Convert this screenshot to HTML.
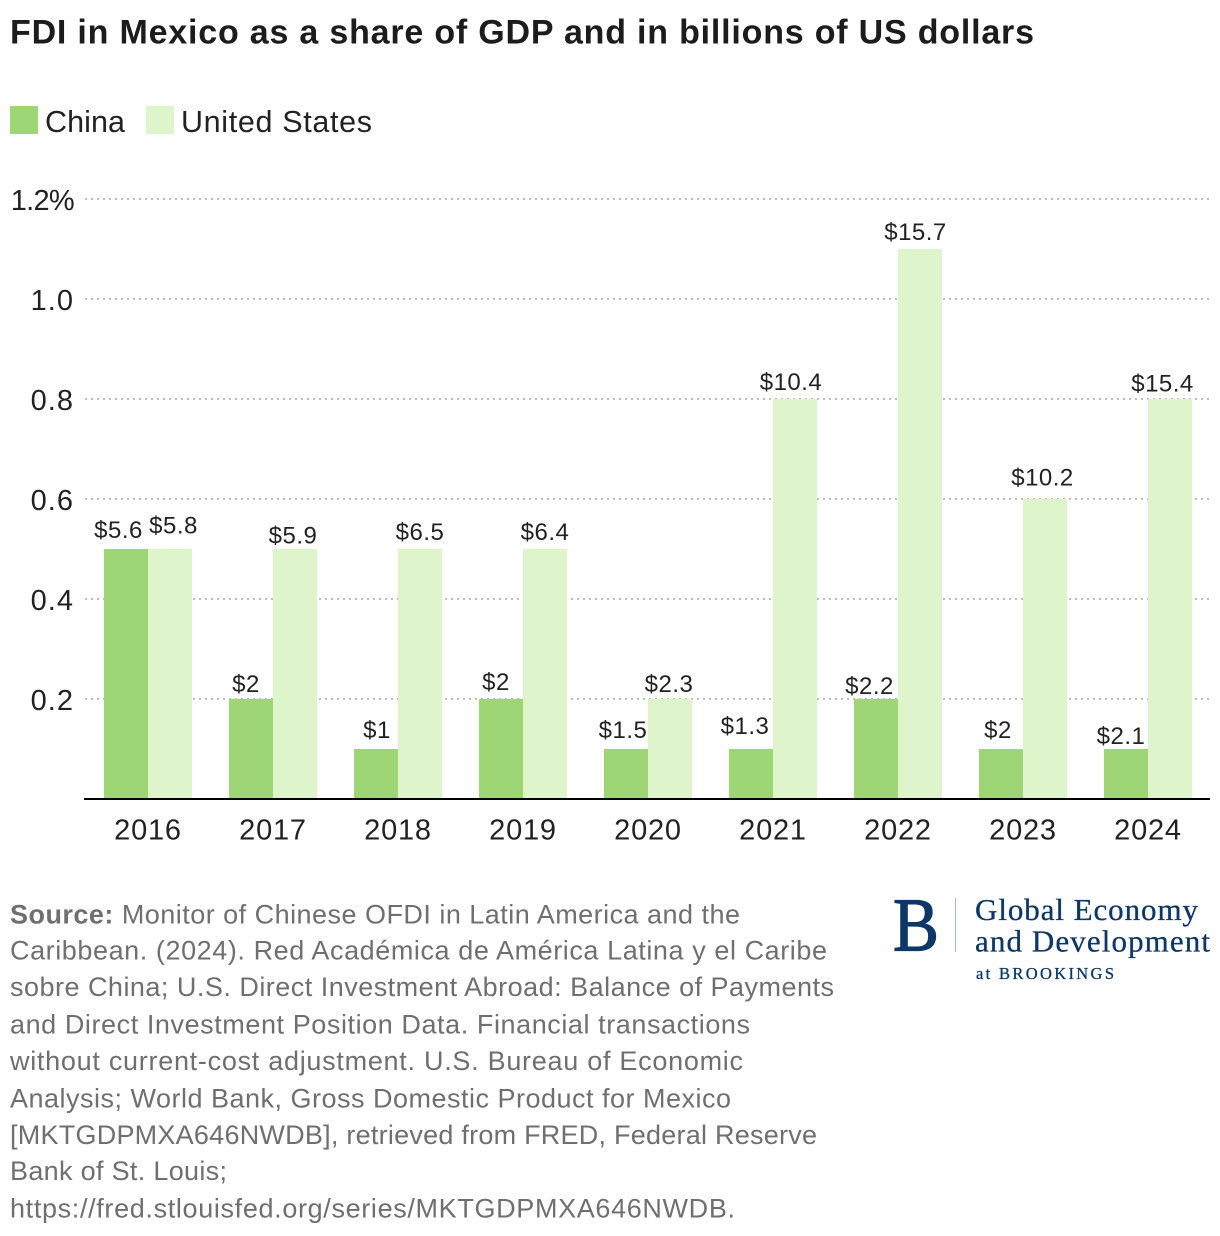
<!DOCTYPE html>
<html lang="en">
<head>
<meta charset="utf-8">
<title>FDI in Mexico as a share of GDP and in billions of US dollars</title>
<style>
html,body{margin:0;padding:0;background:#fff;}
svg{display:block;font-family:"Liberation Sans",sans-serif;}
.src{font-size:27px;fill:#6f6f6f;}
.logo{font-family:"Liberation Serif",serif;fill:#0c3767;stroke:#0c3767;stroke-width:0.3;}
</style>
</head>
<body>
<svg id="chart" width="1220" height="1236" viewBox="0 0 1220 1236" xmlns="http://www.w3.org/2000/svg">
  <rect x="0" y="0" width="1220" height="1236" fill="#fff"/>
  <text x="10" y="43.5" font-size="34" font-weight="700" fill="#1c1c1c" textLength="1024" lengthAdjust="spacing">FDI in Mexico as a share of GDP and in billions of US dollars</text>

  <g>
    <rect x="10" y="106" width="28" height="28" fill="#9ed675"/>
    <text x="45" y="132" font-size="30.5" fill="#222" textLength="80" lengthAdjust="spacing">China</text>
    <rect x="146" y="106" width="28" height="28" fill="#def4ca"/>
    <text x="181" y="132" font-size="30.5" fill="#222" textLength="191" lengthAdjust="spacing">United States</text>
  </g>

  <g id="grid"></g>
  <g id="yticks"></g>
  <g id="bars"></g>
  <g id="labels"></g>
  <g id="xticks"></g>
  <line x1="84" x2="1210" y1="799" y2="799" stroke="#000" stroke-width="2"/>

  <g>
    <text class="src" x="10" y="923.5" textLength="730" lengthAdjust="spacing"><tspan font-weight="700">Source:</tspan> Monitor of Chinese OFDI in Latin America and the</text>
    <text class="src" x="10" y="959.5" textLength="817" lengthAdjust="spacing">Caribbean. (2024). Red Académica de América Latina y el Caribe</text>
    <text class="src" x="10" y="996" textLength="824" lengthAdjust="spacing">sobre China; U.S. Direct Investment Abroad: Balance of Payments</text>
    <text class="src" x="10" y="1033.5" textLength="740" lengthAdjust="spacing">and Direct Investment Position Data. Financial transactions</text>
    <text class="src" x="10" y="1070" textLength="733" lengthAdjust="spacing">without current-cost adjustment. U.S. Bureau of Economic</text>
    <text class="src" x="10" y="1107.5" textLength="721" lengthAdjust="spacing">Analysis; World Bank, Gross Domestic Product for Mexico</text>
    <text class="src" x="10" y="1144" textLength="807" lengthAdjust="spacing">[MKTGDPMXA646NWDB], retrieved from FRED, Federal Reserve</text>
    <text class="src" x="10" y="1180" textLength="217" lengthAdjust="spacing">Bank of St. Louis;</text>
    <text class="src" x="10" y="1217.5" textLength="725" lengthAdjust="spacing">https://fred.stlouisfed.org/series/MKTGDPMXA646NWDB.</text>
  </g>

  <g>
    <text class="logo" x="893" y="950.5" font-size="76" textLength="46" lengthAdjust="spacingAndGlyphs" style="stroke-width:1.2">B</text>
    <line x1="955.5" x2="955.5" y1="898" y2="952" stroke="#a9b5c9" stroke-width="1"/>
    <text class="logo" x="975" y="920" font-size="31" textLength="223" lengthAdjust="spacing">Global Economy</text>
    <text class="logo" x="975" y="951.5" font-size="31" textLength="235" lengthAdjust="spacing">and Development</text>
    <text class="logo" x="976" y="979" font-size="16.5" textLength="138" lengthAdjust="spacing">at BROOKINGS</text>
  </g>
</svg>
<script>
// Chart data
const years = ["2016","2017","2018","2019","2020","2021","2022","2023","2024"];
// Plotted bar heights (% of GDP, rounded as shown)
const chinaShare = [0.5,0.2,0.1,0.2,0.1,0.1,0.2,0.1,0.1];
const usShare = [0.5,0.5,0.5,0.5,0.2,0.8,1.1,0.6,0.8];
// Estimated height of each printed label on the same % of GDP scale
const chinaLabelLevel = [0.518,0.21,0.118,0.214,0.118,0.126,0.206,0.118,0.106];
const usLabelLevel = [0.527,0.507,0.514,0.514,0.21,0.814,1.114,0.623,0.811];
// Printed values (billions of US dollars)
const chinaLabels = ["$5.6","$2","$1","$2","$1.5","$1.3","$2.2","$2","$2.1"];
const usLabels = ["$5.8","$5.9","$6.5","$6.4","$2.3","$10.4","$15.7","$10.2","$15.4"];
const yTicks = [0.2,0.4,0.6,0.8,1.0,1.2];
const yTickLabels = ["0.2","0.4","0.6","0.8","1.0","1.2%"];

const NS = "http://www.w3.org/2000/svg";
function yScale(v){ return 799 - 500 * v; }
function xCenter(i){ return 148 + 125 * i; }
const barWidth = 44;

function make(tag, attrs, parent, text){
  const el = document.createElementNS(NS, tag);
  for (const k in attrs) el.setAttribute(k, attrs[k]);
  if (text !== undefined) el.textContent = text;
  document.getElementById(parent).appendChild(el);
  return el;
}

// Hand placement of each value label relative to its bar centre (layout, not data)
function chinaNudge(i){ return [-7.5,-5,1,-5,-3,-6,-6.5,-3,-5][i] || 0; }
function usNudge(i){ return [3.5,-2,0,0,-1,-4,-4.5,-2.5,-7.5][i] || 0; }

yTicks.forEach(function(t, i){
  const y = yScale(t);
  const line = make("line", {x1:85, x2:1210, y1:y, y2:y, stroke:"#bdbdbd", "stroke-width":2, "stroke-dasharray":"2 4"}, "grid");
  
  
  const text = yTickLabels[i];
  const spacing = text.indexOf("%") >= 0 ? "-0.7" : "1";
  const label = make("text", {x:74, y:y + 11, "text-anchor":"end", "font-size":29, "letter-spacing":spacing, fill:"#222"}, "yticks", text);
  
  
});

years.forEach(function(year, i){
  const cx = xCenter(i);

  const chinaBar = make("rect", {x:cx - barWidth, y:yScale(chinaShare[i]), width:barWidth, height:yScale(0) - yScale(chinaShare[i]), fill:"#9ed675"}, "bars");
  
  

  const usBar = make("rect", {x:cx, y:yScale(usShare[i]), width:barWidth, height:yScale(0) - yScale(usShare[i]), fill:"#def4ca"}, "bars");
  
  

  const chinaLabel = make("text", {x:cx - barWidth / 2 + chinaNudge(i), y:yScale(chinaLabelLevel[i]) - 2, "text-anchor":"middle", "font-size":24, "letter-spacing":"0.5", fill:"#222"}, "labels", chinaLabels[i]);
  
  

  const usLabel = make("text", {x:cx + barWidth / 2 + usNudge(i), y:yScale(usLabelLevel[i]) - 2, "text-anchor":"middle", "font-size":24, "letter-spacing":"0.5", fill:"#222"}, "labels", usLabels[i]);
  
  

  const tick = make("text", {x:cx, y:839.5, "text-anchor":"middle", "font-size":29, "letter-spacing":"0.8", fill:"#222"}, "xticks", year);
  
  
});
</script>
</body>
</html>
